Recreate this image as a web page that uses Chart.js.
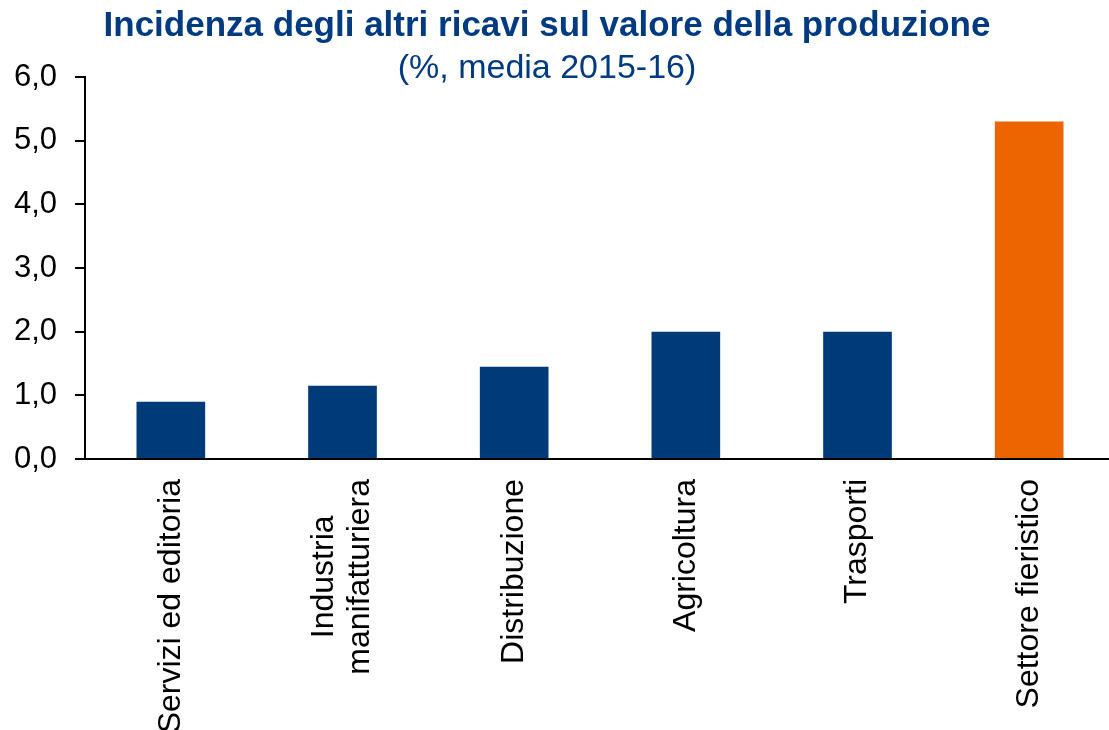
<!DOCTYPE html>
<html>
<head>
<meta charset="utf-8">
<script src="https://cdn.jsdelivr.net/npm/chart.js@4.4.1/dist/chart.umd.min.js"></script>
<style>
  html, body { margin: 0; padding: 0; overflow: hidden; background: #ffffff; width: 1109px; height: 730px; }
  #wrap { position: absolute; left: -21px; top: 0; width: 1136px; height: 730px; }
</style>
</head>
<body>
<div id="wrap"><canvas id="chart"></canvas></div>
<script>
const categories = [
  'Servizi ed editoria',
  ['Industria', 'manifatturiera'],
  'Distribuzione',
  'Agricoltura',
  'Trasporti',
  'Settore fieristico'
];
const values = [0.9, 1.15, 1.45, 2.0, 2.0, 5.3];
const barColors = ['#003A78', '#003A78', '#003A78', '#003A78', '#003A78', '#EC6500'];
const yTicks = [0, 1, 2, 3, 4, 5, 6];
const titleText = 'Incidenza degli altri ricavi sul valore della produzione';
const subtitleText = '(%, media 2015-16)';

const FONT = '"Liberation Sans", Arial, sans-serif';

const xLabelPlugin = {
  id: 'xLabels',
  afterDraw(chart) {
    const ctx = chart.ctx;
    const xs = chart.scales.x;
    const top = xs.top + 20;
    ctx.save();
    ctx.font = '32px ' + FONT;
    ctx.fillStyle = '#000000';
    ctx.textBaseline = 'middle';
    ctx.textAlign = 'center';
    categories.forEach((lab, i) => {
      const lines = Array.isArray(lab) ? lab : [lab];
      const maxW = Math.max(...lines.map(l => ctx.measureText(l).width));
      const x = xs.getPixelForValue(i);
      ctx.save();
      ctx.translate(x, top);
      ctx.rotate(-Math.PI / 2);
      const n = lines.length;
      lines.forEach((l, k) => {
        ctx.fillText(l, -maxW / 2, (k - (n - 1) / 2) * 36);
      });
      ctx.restore();
    });
    ctx.restore();
  }
};

new Chart(document.getElementById('chart'), {
  type: 'bar',
  data: {
    labels: categories,
    datasets: [{
      data: values,
      backgroundColor: barColors,
      borderWidth: 0,
      barPercentage: 0.4,
      categoryPercentage: 1.0
    }]
  },
  options: {
    responsive: true,
    maintainAspectRatio: false,
    animation: false,
    layout: { padding: 0 },
    plugins: {
      legend: { display: false },
      tooltip: { enabled: false },
      title: {
        display: true,
        text: titleText,
        color: '#003A80',
        font: { family: FONT, size: 35, weight: 'bold', lineHeight: 1.0 },
        padding: { top: 9, bottom: 0 }
      },
      subtitle: {
        display: true,
        text: subtitleText,
        color: '#003A80',
        font: { family: FONT, size: 34, weight: 'normal', lineHeight: 0.5 },
        padding: { top: 16, bottom: 0 }
      }
    },
    scales: {
      x: {
        offset: true,
        grid: { display: false },
        border: { display: true, color: '#000000', width: 2 },
        ticks: { display: false },
        afterFit(scale) { scale.height = 271; }
      },
      y: {
        min: 0,
        max: 6,
        afterBuildTicks(scale) { scale.ticks = yTicks.map(v => ({ value: v })); },
        grid: { drawOnChartArea: false, drawTicks: true, tickLength: 10, color: '#000000', lineWidth: 2 },
        border: { display: true, color: '#000000', width: 2 },
        ticks: {
          padding: 18,
          color: '#000000',
          font: { family: FONT, size: 31 },
          callback: (v) => Number(v).toFixed(1).replace('.', ',')
        },
        afterFit(scale) { scale.width = 106; }
      }
    }
  },
  plugins: [xLabelPlugin]
});
</script>
</body>
</html>
